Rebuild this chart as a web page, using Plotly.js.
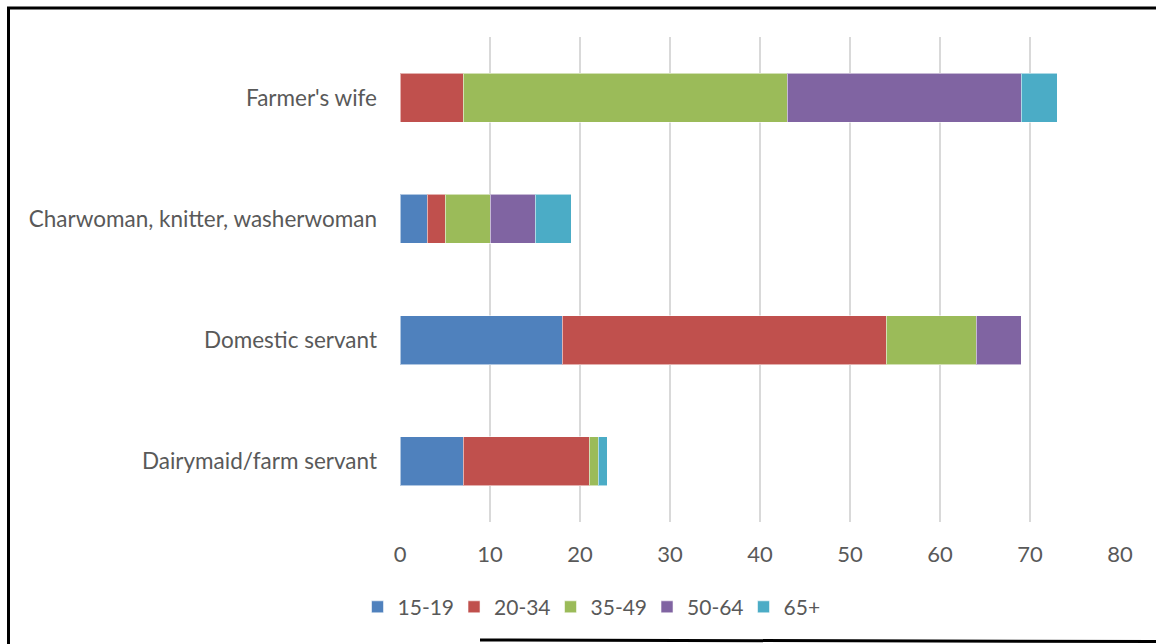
<!DOCTYPE html>
<html>
<head>
<meta charset="utf-8">
<script src="https://cdn.plot.ly/plotly-3.0.1.min.js"></script>
<style>html,body{margin:0;padding:0;background:#fff;}#chart{width:1156px;height:644px;}</style>
</head>
<body>
<div id="chart"></div>
<script>
// Categories (bottom to top)
const categories = ["Dairymaid/farm servant", "Domestic servant", "Charwoman, knitter, washerwoman", "Farmer's wife"];
const seriesNames = ["15-19", "20-34", "35-49", "50-64", "65+"];
const age15_19 = [7, 18, 3, 0];
const age20_34 = [14, 36, 2, 7];
const age35_49 = [1, 10, 5, 36];
const age50_64 = [0, 5, 5, 26];
const age65plus = [1, 0, 4, 4];
const xTicks = [0, 10, 20, 30, 40, 50, 60, 70, 80];

const colors = ["#4F81BD", "#C0504D", "#9BBB59", "#8064A2", "#4BACC6"];
const values = [age15_19, age20_34, age35_49, age50_64, age65plus];

const traces = values.map((v, i) => ({
  type: "bar",
  orientation: "h",
  name: seriesNames[i],
  y: categories,
  x: v,
  marker: { color: colors[i], line: { color: "rgba(255,255,255,0.55)", width: 1 } },
  hoverinfo: "x+name"
}));

const font = "Lato, 'Open Sans', sans-serif";
const layout = {
  width: 1156,
  height: 644,
  barmode: "stack",
  bargap: 0.595,
  paper_bgcolor: "#fff",
  plot_bgcolor: "#fff",
  margin: { l: 400, r: 36, t: 37, b: 122 },
  font: { family: font, color: "#595959", size: 22 },
  xaxis: {
    range: [0, 80],
    tickvals: xTicks,
    ticktext: xTicks.map(String),
    showgrid: true,
    gridcolor: "#d9d9d9",
    gridwidth: 2,
    zeroline: false,
    showline: false,
    ticks: "",
    ticklabelstandoff: 17,
    tickfont: { size: 22, color: "#595959", family: font },
    fixedrange: true
  },
  yaxis: {
    type: "category",
    categoryorder: "array",
    categoryarray: categories,
    showgrid: false,
    zeroline: false,
    showline: false,
    ticks: "",
    ticklabelstandoff: 22,
    tickfont: { size: 22.5, color: "#595959", family: font },
    fixedrange: true
  },
  showlegend: true,
  legend: {
    orientation: "h",
    x: -0.059,
    xanchor: "left",
    y: -0.1756,
    yanchor: "middle",
    font: { size: 21, color: "#595959", family: font },
    traceorder: "normal",
    entrywidth: 51.5,
    itemwidth: 30
  },
  shapes: [
    { type: "line", xref: "paper", yref: "paper", x0: (8.5 - 400) / 720, x1: (8.5 - 400) / 720, y0: (522 - 7) / 485, y1: (522 - 650) / 485, line: { color: "#000", width: 3 } },
    { type: "line", xref: "paper", yref: "paper", x0: (7 - 400) / 720, x1: (1160 - 400) / 720, y0: (522 - 8) / 485, y1: (522 - 8) / 485, line: { color: "#000", width: 3 } },
    { type: "line", xref: "paper", yref: "paper", x0: (480 - 400) / 720, x1: (1160 - 400) / 720, y0: (522 - 640) / 485, y1: (522 - 641.5) / 485, line: { color: "#000", width: 3 } }
  ]
};

Plotly.newPlot("chart", traces, layout, { staticPlot: true, displayModeBar: false });
</script>
</body>
</html>
